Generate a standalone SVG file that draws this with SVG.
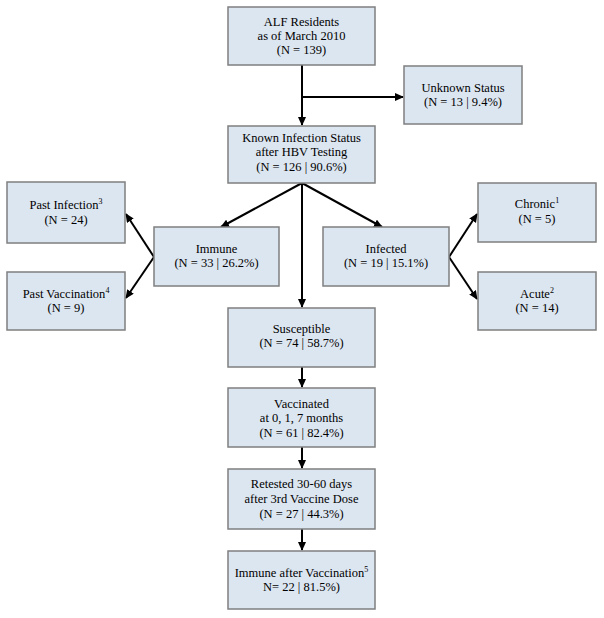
<svg xmlns="http://www.w3.org/2000/svg" width="604" height="618" viewBox="0 0 604 618">
<defs>
<style>
.box{fill:#dce6f1;stroke:#7f7f7f;stroke-width:1.5}
text{font-family:"Liberation Serif","Times New Roman",serif;font-size:12.5px;fill:#000;text-anchor:middle}
.sup{font-size:8px}
.c{stroke:#000;stroke-width:2;fill:none}
</style>
<marker id="ah" markerUnits="userSpaceOnUse" markerWidth="10" markerHeight="9" refX="8" refY="4" orient="auto">
<path d="M0,0 L9,4 L0,8 z" fill="#000"/>
</marker>
</defs>
<rect width="604" height="618" fill="#fff"/>
<g id="connectors">
<line class="c" x1="302" y1="65" x2="302" y2="125" marker-end="url(#ah)"/>
<line class="c" x1="302" y1="97" x2="403" y2="97" marker-end="url(#ah)"/>
<line class="c" x1="302" y1="183" x2="221" y2="227" marker-end="url(#ah)"/>
<line class="c" x1="302" y1="183" x2="382" y2="227" marker-end="url(#ah)"/>
<line class="c" x1="302" y1="183" x2="302" y2="307" marker-end="url(#ah)"/>
<line class="c" x1="154" y1="257" x2="126" y2="214" marker-end="url(#ah)"/>
<line class="c" x1="154" y1="257" x2="126" y2="298" marker-end="url(#ah)"/>
<line class="c" x1="449" y1="257" x2="477" y2="214" marker-end="url(#ah)"/>
<line class="c" x1="449" y1="257" x2="477" y2="299" marker-end="url(#ah)"/>
<line class="c" x1="302" y1="367" x2="302" y2="387" marker-end="url(#ah)"/>
<line class="c" x1="302" y1="447" x2="302" y2="468" marker-end="url(#ah)"/>
<line class="c" x1="302" y1="529" x2="302" y2="550" marker-end="url(#ah)"/>
</g>
<g id="alf">
<rect class="box" x="228" y="7" width="147" height="58"/>
<text x="301.5" y="26">ALF Residents</text>
<text x="301.5" y="40">as of March 2010</text>
<text x="301.5" y="54">(N = 139)</text>
</g>
<g id="unknown">
<rect class="box" x="404" y="66" width="118" height="58"/>
<text x="463" y="92">Unknown Status</text>
<text x="463" y="106">(N = 13 | 9.4%)</text>
</g>
<g id="known">
<rect class="box" x="228" y="126" width="147" height="57"/>
<text x="301.5" y="142">Known Infection Status</text>
<text x="301.5" y="156">after HBV Testing</text>
<text x="301.5" y="171">(N = 126 | 90.6%)</text>
</g>
<g id="immune">
<rect class="box" x="154" y="227" width="125" height="59"/>
<text x="216.5" y="253">Immune</text>
<text x="216.5" y="267">(N = 33 | 26.2%)</text>
</g>
<g id="infected">
<rect class="box" x="323" y="227" width="126" height="59"/>
<text x="386" y="253">Infected</text>
<text x="386" y="267">(N = 19 | 15.1%)</text>
</g>
<g id="pastInfection">
<rect class="box" x="7" y="182" width="118" height="61"/>
<text x="66" y="209">Past Infection<tspan class="sup" dy="-5">3</tspan></text>
<text x="66" y="224">(N = 24)</text>
</g>
<g id="pastVaccination">
<rect class="box" x="7" y="272" width="118" height="58"/>
<text x="66" y="298">Past Vaccination<tspan class="sup" dy="-5">4</tspan></text>
<text x="66" y="312">(N = 9)</text>
</g>
<g id="chronic">
<rect class="box" x="478" y="183" width="118" height="59"/>
<text x="537" y="208">Chronic<tspan class="sup" dy="-5">1</tspan></text>
<text x="537" y="223">(N = 5)</text>
</g>
<g id="acute">
<rect class="box" x="478" y="272" width="118" height="58"/>
<text x="537" y="298">Acute<tspan class="sup" dy="-5">2</tspan></text>
<text x="537" y="312">(N = 14)</text>
</g>
<g id="susceptible">
<rect class="box" x="228" y="308" width="147" height="59"/>
<text x="301.5" y="333">Susceptible</text>
<text x="301.5" y="347">(N = 74 | 58.7%)</text>
</g>
<g id="vaccinated">
<rect class="box" x="228" y="388" width="147" height="59"/>
<text x="301.5" y="408">Vaccinated</text>
<text x="301.5" y="422">at 0, 1, 7 months</text>
<text x="301.5" y="437">(N = 61 | 82.4%)</text>
</g>
<g id="retested">
<rect class="box" x="228" y="469" width="147" height="60"/>
<text x="301.5" y="488">Retested 30-60 days</text>
<text x="301.5" y="503">after 3rd Vaccine Dose</text>
<text x="301.5" y="518">(N = 27 | 44.3%)</text>
</g>
<g id="immuneAfter">
<rect class="box" x="228" y="551" width="147" height="58"/>
<text x="301.5" y="577">Immune after Vaccination<tspan class="sup" dy="-5">5</tspan></text>
<text x="301.5" y="591">N= 22 | 81.5%)</text>
</g>
</svg>
